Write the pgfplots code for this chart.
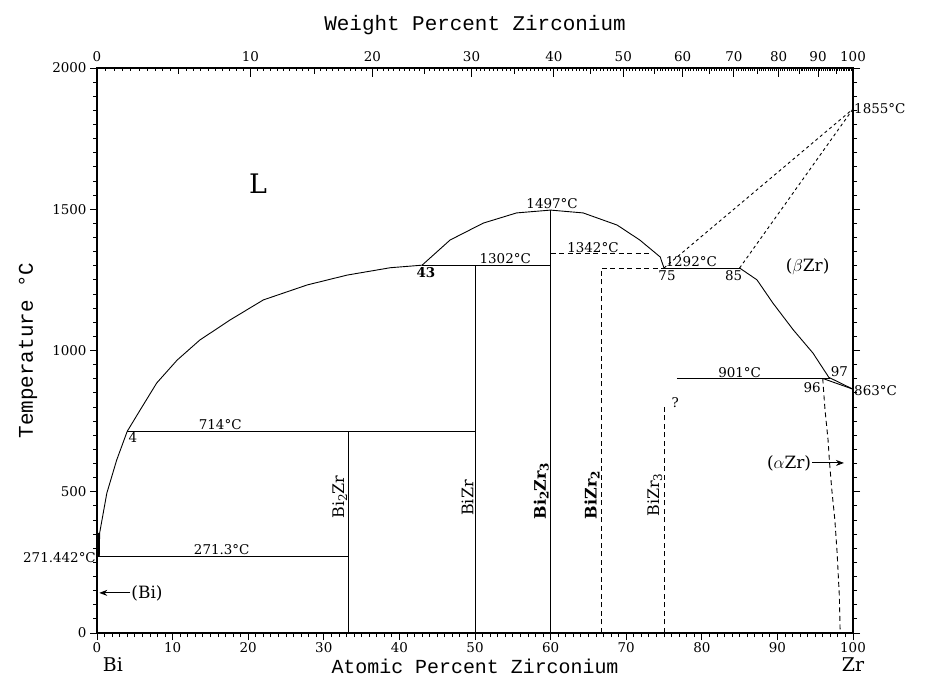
\documentclass[border=0pt]{standalone}
\usepackage{fontspec}
\setmainfont{DejaVu Serif}
\setmonofont{Liberation Mono}
\usepackage{pgfplots}
\pgfplotsset{compat=1.18}
\usetikzlibrary{arrows.meta}
\newcommand{\sub}[1]{\raisebox{-0.35ex}{\fontsize{12}{12}\selectfont #1}}
\tikzset{
  lbl/.style={font=\fontsize{13.5}{15}\selectfont, inner sep=1bp},
  cmp/.style={font=\fontsize{16}{18}\selectfont, rotate=90, anchor=south, inner sep=1.5bp},
  dsh/.style={black, dash pattern=on 5bp off 3.5bp, line width=0.9bp},
  dot/.style={black, dash pattern=on 3bp off 3bp, line width=0.9bp},
  sld/.style={black, solid, line width=0.9bp},
}
\begin{document}
\begin{tikzpicture}
\path[use as bounding box] (-97bp,-63bp) rectangle (841bp,633bp);
\begin{axis}[
  width=756bp, height=565bp, scale only axis,
  xmin=0, xmax=100, ymin=0, ymax=2000, clip=false,
  axis line style={line width=1.2bp},
  xtick={0,10,...,100}, ytick={0,500,...,2000},
  minor x tick num=9, minor y tick num=9,
  tick align=outside, xtick pos=bottom, ytick pos=both, yticklabel pos=left,
  major tick length=7bp, minor tick length=4bp,
  tick style={black, line width=0.8bp},
  ticklabel style={font=\fontsize{13.5}{15}\selectfont},
  xticklabel style={yshift=1bp},
  /pgf/number format/assume math mode=true,
  /pgf/number format/1000 sep={},
  xlabel={\ttfamily Atomic Percent Zirconium},
  xlabel style={font=\fontsize{20}{22}\selectfont, at={(axis description cs:0.5,0)}, anchor=center, yshift=-33bp},
  ylabel={\ttfamily Temperature °C},
  ylabel style={font=\fontsize{21}{24}\selectfont, at={(axis description cs:-0.0913,0.5)}, anchor=center},
]
% liquidus Bi side
\addplot[sld] coordinates {(0.3,271.4) (0.35,354) (1.3,495) (2.6,612) (4,714) (5.7,789) (7.9,885) (10.6,966) (13.6,1037) (17.6,1108) (22.0,1179) (27.8,1232) (33.1,1267) (38.8,1293) (43,1302)};
\addplot[sld, line width=2bp] coordinates {(0.2,271.4) (0.25,354)};
% dome
\addplot[sld] coordinates {(43,1302) (46.7,1391) (51.1,1451) (55.5,1487) (60,1497) (64.3,1487) (68.8,1444) (71.8,1391) (74.5,1331) (75,1292)};
% invariants
\addplot[sld] coordinates {(4,714) (50,714)};
\addplot[sld] coordinates {(0,271.3) (33.3,271.3)};
\addplot[sld] coordinates {(43,1302) (60,1302)};
\addplot[sld] coordinates {(75,1292) (85,1292)};
\addplot[sld] coordinates {(76.7,901) (97,901)};
% compounds
\addplot[sld] coordinates {(33.3,0) (33.3,714)};
\addplot[sld] coordinates {(50,0) (50,1302)};
\addplot[sld] coordinates {(60,0) (60,1497)};
\addplot[dsh] coordinates {(66.7,0) (66.7,1292) (75,1292)};
\addplot[dsh] coordinates {(75,0) (75,807)};
\addplot[dsh] coordinates {(60,1342) (73.4,1342)};
% Zr side
\addplot[sld] coordinates {(85,1292) (87.3,1250) (89.4,1168) (92.1,1073) (94.7,991) (96.8,905) (100,863)};
\addplot[sld] coordinates {(96,901) (100,863)};
\addplot[dot] coordinates {(75,1292) (100,1855)};
\addplot[dot] coordinates {(85,1292) (100,1855)};
\addplot[dsh] coordinates {(96,901) (96.07,872) (96.3,789) (96.7,683) (96.9,602) (97.2,506) (97.6,400) (97.9,283) (98.2,127) (98.3,0)};
% arrows
\addplot[sld, -{Stealth[length=8bp,width=6bp]}] coordinates {(4.4,142) (0.3,142)};
\addplot[sld, -{Stealth[length=8bp,width=6bp]}] coordinates {(94.6,602) (98.8,602)};
% labels
\node[font=\fontsize{27}{30}\selectfont] at (axis cs:21.3,1590) {L};
\node[lbl, anchor=south] at (axis cs:60.2,1497) {1497°C};
\node[lbl, anchor=south] at (axis cs:54,1302) {1302°C};
\node[lbl, anchor=south] at (axis cs:65.6,1342) {1342°C};
\node[lbl, anchor=south] at (axis cs:78.6,1292) {1292°C};
\node[lbl, anchor=north] at (axis cs:43.5,1298) {\bfseries 43};
\node[lbl, anchor=north] at (axis cs:75.4,1288) {75};
\node[lbl, anchor=north] at (axis cs:84.2,1288) {85};
\node[lbl, anchor=north west, inner sep=0.5bp] at (axis cs:4.1,712) {4};
\node[lbl, anchor=south] at (axis cs:16.3,714) {714°C};
\node[lbl, anchor=south] at (axis cs:16.5,271.3) {271.3°C};
\node[lbl, anchor=east] at (axis cs:0,268) {271.442°C};
\node[font=\fontsize{17}{19}\selectfont, anchor=west, inner sep=1bp] at (axis cs:4.4,142) {(Bi)};
\node[font=\fontsize{17}{19}\selectfont, anchor=east, inner sep=1bp] at (axis cs:94.6,602) {($\alpha$Zr)};
\node[font=\fontsize{17}{19}\selectfont] at (axis cs:94,1296) {($\beta$Zr)};
\node[lbl, anchor=south] at (axis cs:85,901) {901°C};
\node[lbl] at (axis cs:98.2,925) {97};
\node[lbl] at (axis cs:94.6,868) {96};
\node[lbl, anchor=west] at (axis cs:100,858) {863°C};
\node[lbl, anchor=west] at (axis cs:100,1855) {1855°C};
\node[lbl] at (axis cs:76.5,817) {?};
\node[cmp] at (axis cs:33.3,481) {Bi\sub{2}Zr};
\node[cmp] at (axis cs:50,478) {BiZr};
\node[cmp] at (axis cs:60,502) {\bfseries Bi\sub{2}Zr\sub{3}};
\node[cmp] at (axis cs:66.7,488) {\bfseries BiZr\sub{2}};
\node[cmp] at (axis cs:75,488) {BiZr\sub{3}};
\node[font=\fontsize{19}{22}\selectfont] at (axis cs:2.1,-112) {Bi};
\node[font=\fontsize{19}{22}\selectfont] at (axis cs:100,-112) {Zr};
\end{axis}
\begin{axis}[
  width=756bp, height=565bp, scale only axis,
  xmin=0, xmax=100, ymin=0, ymax=2000,
  axis x line*=top, axis y line=none,
  axis line style={line width=1.2bp},
  x coord trafo/.code={\pgfmathparse{(#1)*2.29085/(1+(#1)*0.0129085)}},
  x coord inv trafo/.code={\pgfmathparse{(#1)/(2.29085-0.0129085*(#1))}},
  xtick={0,10,20,30,40,50,60,70,80,90,100},
  xticklabels={0,10,20,30,40,50,60,70,80,90,100},
  minor xtick={0.5,1,...,99.5},
  extra x ticks={5,15,25,35,45,55,65,75,85,95},
  extra x tick labels={},
  extra x tick style={major tick length=6bp},
  tick align=inside, major tick length=9bp, minor tick length=3.5bp,
  tick style={black, line width=0.8bp},
  ticklabel style={font=\fontsize{13.5}{15}\selectfont},
  xticklabel style={yshift=3bp},
  /pgf/number format/assume math mode=true,
  xlabel={\ttfamily Weight Percent Zirconium},
  xlabel style={font=\fontsize{21}{24}\selectfont, at={(axis description cs:0.5,1)}, anchor=center, yshift=43bp},
]
\end{axis}
\end{tikzpicture}
\end{document}
